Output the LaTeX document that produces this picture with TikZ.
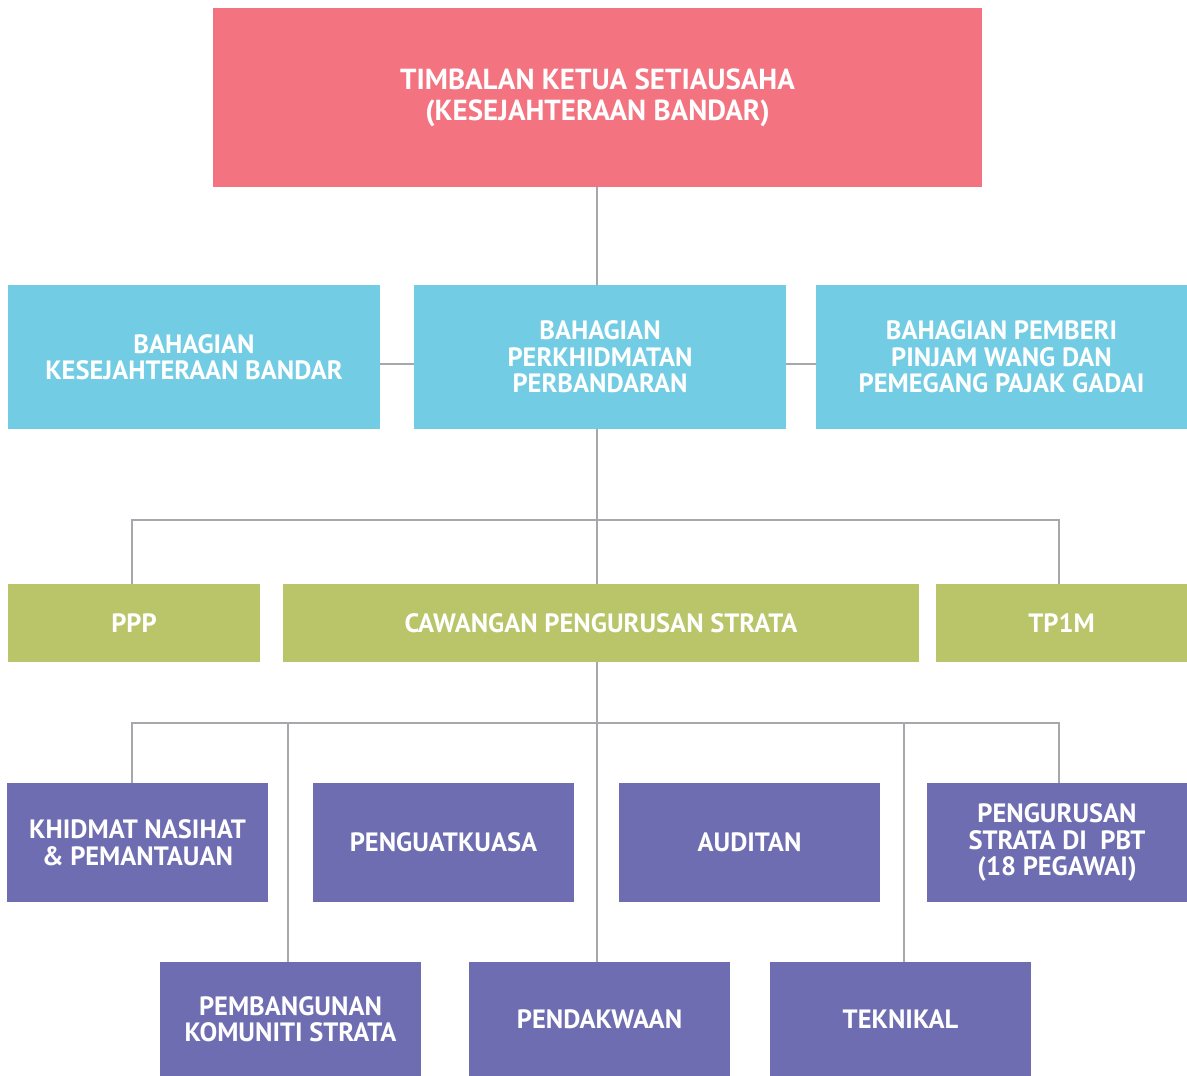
\documentclass[tikz,border=0pt]{standalone}
\usepackage{fontspec}
\setmainfont{PT Sans}
\usepackage{tikz}

\definecolor{pinkbox}{HTML}{F37480}
\definecolor{bluebox}{HTML}{72CDE4}
\definecolor{olivebox}{HTML}{BAC468}
\definecolor{purplebox}{HTML}{6E6DB2}
\definecolor{linegray}{HTML}{A7A8AB}

\tikzset{
  box/.style={inner sep=0pt, align=center, text=white, font=\bfseries\fontsize{26.5}{26.5}\selectfont},
  ketuabox/.style={box, fill=pinkbox, minimum width=769, minimum height=179, font=\bfseries\fontsize{29}{31}\selectfont},
  bahagianbox/.style={box, fill=bluebox, minimum width=372, minimum height=144},
  cawanganbox/.style={box, fill=olivebox, minimum height=78},
  unitbox/.style={box, fill=purplebox, minimum width=261},
  link/.style={draw=linegray, line width=2.5pt}
}

\begin{document}
\begin{tikzpicture}[x=1pt,y=-1pt]
  \useasboundingbox (0,0) rectangle (1187,1076);

  % top
  \node[ketuabox] (ketua) at (597.5,97.5) {TIMBALAN KETUA SETIAUSAHA\\(KESEJAHTERAAN BANDAR)};

  % bahagian
  \node[bahagianbox] (bkb) at (194,357) {BAHAGIAN\\KESEJAHTERAAN BANDAR};
  \node[bahagianbox] (bpp) at (600,357) {BAHAGIAN\\PERKHIDMATAN\\PERBANDARAN};
  \node[bahagianbox, minimum width=371] (bpw) at (1001.5,357) {BAHAGIAN PEMBERI\\PINJAM WANG DAN\\PEMEGANG PAJAK GADAI};

  % cawangan
  \node[cawanganbox, minimum width=252] (ppp) at (134,623) {PPP};
  \node[cawanganbox, minimum width=636] (cps) at (601,623) {CAWANGAN PENGURUSAN STRATA};
  \node[cawanganbox, minimum width=251] (tp) at (1061.5,623) {TP1M};

  % unit
  \node[unitbox, minimum height=119] (knp) at (137.5,842.5) {KHIDMAT NASIHAT\\\& PEMANTAUAN};
  \node[unitbox, minimum height=119] (pgk) at (443.5,842.5) {PENGUATKUASA};
  \node[unitbox, minimum height=119] (aud) at (749.5,842.5) {AUDITAN};
  \node[unitbox, minimum height=119, minimum width=260] (psp) at (1057,842.5) {PENGURUSAN\\STRATA DI~~PBT\\(18 PEGAWAI)};
  \node[unitbox, minimum height=114] (pkm) at (290.5,1019) {PEMBANGUNAN\\KOMUNITI STRATA};
  \node[unitbox, minimum height=114] (pdk) at (599.5,1019) {PENDAKWAAN};
  \node[unitbox, minimum height=114] (tek) at (900.5,1019) {TEKNIKAL};

  \coordinate (bus1) at (597,520);
  \coordinate (bus2) at (597,723);

  % connectors
  \draw[link] (ketua.south -| bus1) -- (bpp.north -| bus1);
  \draw[link] ([yshift=-7]bkb.east) -- ([yshift=-7]bpp.west);
  \draw[link] ([yshift=-7]bpp.east) -- ([yshift=-7]bpw.west);
  \draw[link] (bpp.south -| bus1) -- (cps.north -| bus1);
  \draw[link] ([xshift=-2]ppp.north) |- (bus1) -| ([xshift=-2.5]tp.north);
  \draw[link] (cps.south -| bus2) -- (pdk.north -| bus2);
  \draw[link] ([xshift=-5.5]knp.north) |- (bus2) -| ([xshift=2]psp.north);
  \draw[link] (bus2 -| pkm.north) ++(-2.5,0) -- ([xshift=-2.5]pkm.north);
  \draw[link] (bus2 -| tek.north) ++(3.5,0) -- ([xshift=3.5]tek.north);
\end{tikzpicture}
\end{document}
